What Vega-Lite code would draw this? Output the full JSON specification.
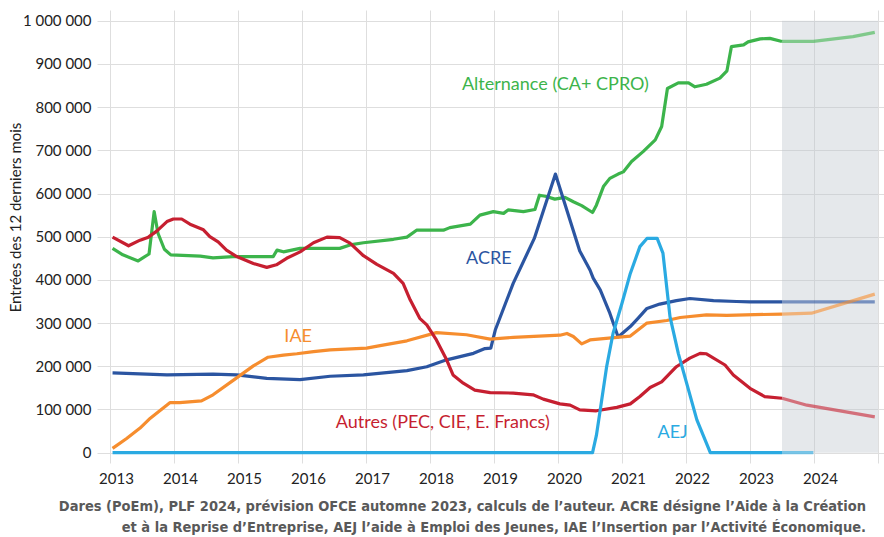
{
  "$schema": "https://vega.github.io/schema/vega-lite/v6.json",
  "width": 787,
  "height": 453,
  "autosize": {"type": "none"},
  "padding": {"left": 97, "top": 10, "right": 0, "bottom": 74},
  "background": "white",
  "config": {
    "view": {"stroke": null},
    "locale": {"number": {"decimal": ",", "thousands": "\u00a0", "grouping": [3], "currency": ["", " €"]}}
  },
  "title": {
    "text": ["Dares (PoEm), PLF 2024, prévision OFCE automne 2023, calculs de l’auteur. ACRE désigne l’Aide à la Création", "et à la Reprise d’Entreprise, AEJ l’aide à Emploi des Jeunes, IAE l’Insertion par l’Activité Économique."],
    "orient": "bottom",
    "anchor": "end",
    "frame": "group",
    "align": "right",
    "dx": -18,
    "offset": 14,
    "font": "Liberation Sans Narrow, DejaVu Sans Condensed, sans-serif",
    "fontSize": 14.5,
    "fontWeight": "bold",
    "color": "#595959",
    "lineHeight": 21
  },
  "datasets": {
    "band": [{"t": 2023.5, "t2": 2025, "v": 0, "v2": 1000000}],
    "labels": [
      {"s": "Alternance", "t": 2019.96, "v": 851000, "txt": "Alternance (CA+ CPRO)"},
      {"s": "ACRE", "t": 2018.92, "v": 448000, "txt": "ACRE"},
      {"s": "IAE", "t": 2015.94, "v": 268000, "txt": "IAE"},
      {"s": "Autres", "t": 2018.2, "v": 69000, "txt": "Autres (PEC, CIE, E. Francs)"},
      {"s": "AEJ", "t": 2021.79, "v": 46000, "txt": "AEJ"}
    ],
    "series": [
      {"s": "Alternance", "p": "obs", "t": 2013.04, "v": 473000},
      {"s": "Alternance", "p": "obs", "t": 2013.2, "v": 458000},
      {"s": "Alternance", "p": "obs", "t": 2013.44, "v": 444000},
      {"s": "Alternance", "p": "obs", "t": 2013.61, "v": 460000},
      {"s": "Alternance", "p": "obs", "t": 2013.69, "v": 558000},
      {"s": "Alternance", "p": "obs", "t": 2013.75, "v": 508000},
      {"s": "Alternance", "p": "obs", "t": 2013.85, "v": 471000},
      {"s": "Alternance", "p": "obs", "t": 2013.95, "v": 458000},
      {"s": "Alternance", "p": "obs", "t": 2014.41, "v": 455000},
      {"s": "Alternance", "p": "obs", "t": 2014.61, "v": 451000},
      {"s": "Alternance", "p": "obs", "t": 2014.92, "v": 454000},
      {"s": "Alternance", "p": "obs", "t": 2015.5, "v": 454000},
      {"s": "Alternance", "p": "obs", "t": 2015.55, "v": 454000},
      {"s": "Alternance", "p": "obs", "t": 2015.61, "v": 469000},
      {"s": "Alternance", "p": "obs", "t": 2015.71, "v": 465000},
      {"s": "Alternance", "p": "obs", "t": 2015.97, "v": 473000},
      {"s": "Alternance", "p": "obs", "t": 2016.59, "v": 473000},
      {"s": "Alternance", "p": "obs", "t": 2016.75, "v": 481000},
      {"s": "Alternance", "p": "obs", "t": 2016.96, "v": 486000},
      {"s": "Alternance", "p": "obs", "t": 2017.43, "v": 494000},
      {"s": "Alternance", "p": "obs", "t": 2017.64, "v": 499000},
      {"s": "Alternance", "p": "obs", "t": 2017.79, "v": 515000},
      {"s": "Alternance", "p": "obs", "t": 2018.21, "v": 515000},
      {"s": "Alternance", "p": "obs", "t": 2018.31, "v": 521000},
      {"s": "Alternance", "p": "obs", "t": 2018.63, "v": 529000},
      {"s": "Alternance", "p": "obs", "t": 2018.78, "v": 550000},
      {"s": "Alternance", "p": "obs", "t": 2018.99, "v": 558000},
      {"s": "Alternance", "p": "obs", "t": 2019.15, "v": 554000},
      {"s": "Alternance", "p": "obs", "t": 2019.22, "v": 562000},
      {"s": "Alternance", "p": "obs", "t": 2019.46, "v": 558000},
      {"s": "Alternance", "p": "obs", "t": 2019.64, "v": 563000},
      {"s": "Alternance", "p": "obs", "t": 2019.71, "v": 596000},
      {"s": "Alternance", "p": "obs", "t": 2019.82, "v": 593000},
      {"s": "Alternance", "p": "obs", "t": 2019.95, "v": 587000},
      {"s": "Alternance", "p": "obs", "t": 2020.11, "v": 591000},
      {"s": "Alternance", "p": "obs", "t": 2020.24, "v": 581000},
      {"s": "Alternance", "p": "obs", "t": 2020.37, "v": 572000},
      {"s": "Alternance", "p": "obs", "t": 2020.54, "v": 556000},
      {"s": "Alternance", "p": "obs", "t": 2020.6, "v": 573000},
      {"s": "Alternance", "p": "obs", "t": 2020.71, "v": 616000},
      {"s": "Alternance", "p": "obs", "t": 2020.81, "v": 635000},
      {"s": "Alternance", "p": "obs", "t": 2020.94, "v": 645000},
      {"s": "Alternance", "p": "obs", "t": 2021.02, "v": 650000},
      {"s": "Alternance", "p": "obs", "t": 2021.15, "v": 674000},
      {"s": "Alternance", "p": "obs", "t": 2021.33, "v": 697000},
      {"s": "Alternance", "p": "obs", "t": 2021.52, "v": 724000},
      {"s": "Alternance", "p": "obs", "t": 2021.62, "v": 755000},
      {"s": "Alternance", "p": "obs", "t": 2021.71, "v": 843000},
      {"s": "Alternance", "p": "obs", "t": 2021.88, "v": 856000},
      {"s": "Alternance", "p": "obs", "t": 2022.04, "v": 856000},
      {"s": "Alternance", "p": "obs", "t": 2022.14, "v": 847000},
      {"s": "Alternance", "p": "obs", "t": 2022.32, "v": 853000},
      {"s": "Alternance", "p": "obs", "t": 2022.53, "v": 867000},
      {"s": "Alternance", "p": "obs", "t": 2022.64, "v": 884000},
      {"s": "Alternance", "p": "obs", "t": 2022.71, "v": 940000},
      {"s": "Alternance", "p": "obs", "t": 2022.9, "v": 944000},
      {"s": "Alternance", "p": "obs", "t": 2022.97, "v": 951000},
      {"s": "Alternance", "p": "obs", "t": 2023.16, "v": 958000},
      {"s": "Alternance", "p": "obs", "t": 2023.31, "v": 959000},
      {"s": "Alternance", "p": "obs", "t": 2023.5, "v": 952000},
      {"s": "Alternance", "p": "proj", "t": 2023.5, "v": 952000},
      {"s": "Alternance", "p": "proj", "t": 2023.99, "v": 952000},
      {"s": "Alternance", "p": "proj", "t": 2024.61, "v": 963000},
      {"s": "Alternance", "p": "proj", "t": 2024.95, "v": 973000},

      {"s": "ACRE", "p": "obs", "t": 2013.04, "v": 185000},
      {"s": "ACRE", "p": "obs", "t": 2013.89, "v": 180000},
      {"s": "ACRE", "p": "obs", "t": 2014.61, "v": 182000},
      {"s": "ACRE", "p": "obs", "t": 2014.98, "v": 180000},
      {"s": "ACRE", "p": "obs", "t": 2015.45, "v": 172000},
      {"s": "ACRE", "p": "obs", "t": 2015.97, "v": 169000},
      {"s": "ACRE", "p": "obs", "t": 2016.44, "v": 177000},
      {"s": "ACRE", "p": "obs", "t": 2016.96, "v": 180000},
      {"s": "ACRE", "p": "obs", "t": 2017.64, "v": 190000},
      {"s": "ACRE", "p": "obs", "t": 2017.95, "v": 199000},
      {"s": "ACRE", "p": "obs", "t": 2018.26, "v": 215000},
      {"s": "ACRE", "p": "obs", "t": 2018.68, "v": 230000},
      {"s": "ACRE", "p": "obs", "t": 2018.86, "v": 241000},
      {"s": "ACRE", "p": "obs", "t": 2018.95, "v": 242000},
      {"s": "ACRE", "p": "obs", "t": 2019.02, "v": 284000},
      {"s": "ACRE", "p": "obs", "t": 2019.3, "v": 392000},
      {"s": "ACRE", "p": "obs", "t": 2019.63, "v": 496000},
      {"s": "ACRE", "p": "obs", "t": 2019.96, "v": 645000},
      {"s": "ACRE", "p": "obs", "t": 2020.34, "v": 467000},
      {"s": "ACRE", "p": "obs", "t": 2020.5, "v": 423000},
      {"s": "ACRE", "p": "obs", "t": 2020.55, "v": 404000},
      {"s": "ACRE", "p": "obs", "t": 2020.66, "v": 377000},
      {"s": "ACRE", "p": "obs", "t": 2020.81, "v": 323000},
      {"s": "ACRE", "p": "obs", "t": 2020.94, "v": 268000},
      {"s": "ACRE", "p": "obs", "t": 2021.13, "v": 292000},
      {"s": "ACRE", "p": "obs", "t": 2021.25, "v": 311000},
      {"s": "ACRE", "p": "obs", "t": 2021.39, "v": 334000},
      {"s": "ACRE", "p": "obs", "t": 2021.59, "v": 344000},
      {"s": "ACRE", "p": "obs", "t": 2021.85, "v": 352000},
      {"s": "ACRE", "p": "obs", "t": 2022.06, "v": 357000},
      {"s": "ACRE", "p": "obs", "t": 2022.43, "v": 352000},
      {"s": "ACRE", "p": "obs", "t": 2022.79, "v": 350000},
      {"s": "ACRE", "p": "obs", "t": 2023.0, "v": 349000},
      {"s": "ACRE", "p": "obs", "t": 2023.5, "v": 349000},
      {"s": "ACRE", "p": "proj", "t": 2023.5, "v": 349000},
      {"s": "ACRE", "p": "proj", "t": 2024.95, "v": 349000},

      {"s": "IAE", "p": "obs", "t": 2013.04, "v": 10000},
      {"s": "IAE", "p": "obs", "t": 2013.26, "v": 33000},
      {"s": "IAE", "p": "obs", "t": 2013.47, "v": 57000},
      {"s": "IAE", "p": "obs", "t": 2013.63, "v": 80000},
      {"s": "IAE", "p": "obs", "t": 2013.94, "v": 116000},
      {"s": "IAE", "p": "obs", "t": 2014.09, "v": 116000},
      {"s": "IAE", "p": "obs", "t": 2014.43, "v": 120000},
      {"s": "IAE", "p": "obs", "t": 2014.61, "v": 134000},
      {"s": "IAE", "p": "obs", "t": 2014.93, "v": 168000},
      {"s": "IAE", "p": "obs", "t": 2015.24, "v": 201000},
      {"s": "IAE", "p": "obs", "t": 2015.47, "v": 221000},
      {"s": "IAE", "p": "obs", "t": 2015.71, "v": 226000},
      {"s": "IAE", "p": "obs", "t": 2015.92, "v": 229000},
      {"s": "IAE", "p": "obs", "t": 2016.18, "v": 234000},
      {"s": "IAE", "p": "obs", "t": 2016.44, "v": 238000},
      {"s": "IAE", "p": "obs", "t": 2017.01, "v": 242000},
      {"s": "IAE", "p": "obs", "t": 2017.22, "v": 248000},
      {"s": "IAE", "p": "obs", "t": 2017.64, "v": 259000},
      {"s": "IAE", "p": "obs", "t": 2018.1, "v": 278000},
      {"s": "IAE", "p": "obs", "t": 2018.57, "v": 273000},
      {"s": "IAE", "p": "obs", "t": 2018.94, "v": 263000},
      {"s": "IAE", "p": "obs", "t": 2019.3, "v": 267000},
      {"s": "IAE", "p": "obs", "t": 2020.03, "v": 272000},
      {"s": "IAE", "p": "obs", "t": 2020.14, "v": 276000},
      {"s": "IAE", "p": "obs", "t": 2020.24, "v": 269000},
      {"s": "IAE", "p": "obs", "t": 2020.37, "v": 252000},
      {"s": "IAE", "p": "obs", "t": 2020.5, "v": 261000},
      {"s": "IAE", "p": "obs", "t": 2020.92, "v": 267000},
      {"s": "IAE", "p": "obs", "t": 2021.13, "v": 270000},
      {"s": "IAE", "p": "obs", "t": 2021.39, "v": 300000},
      {"s": "IAE", "p": "obs", "t": 2021.7, "v": 306000},
      {"s": "IAE", "p": "obs", "t": 2021.91, "v": 313000},
      {"s": "IAE", "p": "obs", "t": 2022.32, "v": 319000},
      {"s": "IAE", "p": "obs", "t": 2022.64, "v": 318000},
      {"s": "IAE", "p": "obs", "t": 2023.5, "v": 321000},
      {"s": "IAE", "p": "proj", "t": 2023.5, "v": 321000},
      {"s": "IAE", "p": "proj", "t": 2023.96, "v": 323000},
      {"s": "IAE", "p": "proj", "t": 2024.95, "v": 367000},

      {"s": "Autres", "p": "obs", "t": 2013.04, "v": 499000},
      {"s": "Autres", "p": "obs", "t": 2013.29, "v": 479000},
      {"s": "Autres", "p": "obs", "t": 2013.47, "v": 492000},
      {"s": "Autres", "p": "obs", "t": 2013.6, "v": 499000},
      {"s": "Autres", "p": "obs", "t": 2013.73, "v": 513000},
      {"s": "Autres", "p": "obs", "t": 2013.89, "v": 535000},
      {"s": "Autres", "p": "obs", "t": 2013.99, "v": 541000},
      {"s": "Autres", "p": "obs", "t": 2014.12, "v": 541000},
      {"s": "Autres", "p": "obs", "t": 2014.25, "v": 529000},
      {"s": "Autres", "p": "obs", "t": 2014.46, "v": 516000},
      {"s": "Autres", "p": "obs", "t": 2014.56, "v": 500000},
      {"s": "Autres", "p": "obs", "t": 2014.69, "v": 488000},
      {"s": "Autres", "p": "obs", "t": 2014.82, "v": 469000},
      {"s": "Autres", "p": "obs", "t": 2014.98, "v": 454000},
      {"s": "Autres", "p": "obs", "t": 2015.24, "v": 438000},
      {"s": "Autres", "p": "obs", "t": 2015.45, "v": 429000},
      {"s": "Autres", "p": "obs", "t": 2015.6, "v": 435000},
      {"s": "Autres", "p": "obs", "t": 2015.76, "v": 450000},
      {"s": "Autres", "p": "obs", "t": 2015.97, "v": 465000},
      {"s": "Autres", "p": "obs", "t": 2016.18, "v": 486000},
      {"s": "Autres", "p": "obs", "t": 2016.39, "v": 499000},
      {"s": "Autres", "p": "obs", "t": 2016.59, "v": 498000},
      {"s": "Autres", "p": "obs", "t": 2016.75, "v": 485000},
      {"s": "Autres", "p": "obs", "t": 2016.96, "v": 456000},
      {"s": "Autres", "p": "obs", "t": 2017.17, "v": 436000},
      {"s": "Autres", "p": "obs", "t": 2017.43, "v": 415000},
      {"s": "Autres", "p": "obs", "t": 2017.58, "v": 392000},
      {"s": "Autres", "p": "obs", "t": 2017.69, "v": 354000},
      {"s": "Autres", "p": "obs", "t": 2017.84, "v": 311000},
      {"s": "Autres", "p": "obs", "t": 2017.95, "v": 296000},
      {"s": "Autres", "p": "obs", "t": 2018.1, "v": 261000},
      {"s": "Autres", "p": "obs", "t": 2018.26, "v": 215000},
      {"s": "Autres", "p": "obs", "t": 2018.36, "v": 180000},
      {"s": "Autres", "p": "obs", "t": 2018.52, "v": 161000},
      {"s": "Autres", "p": "obs", "t": 2018.7, "v": 145000},
      {"s": "Autres", "p": "obs", "t": 2018.94, "v": 139000},
      {"s": "Autres", "p": "obs", "t": 2019.3, "v": 138000},
      {"s": "Autres", "p": "obs", "t": 2019.61, "v": 134000},
      {"s": "Autres", "p": "obs", "t": 2019.77, "v": 124000},
      {"s": "Autres", "p": "obs", "t": 2020.03, "v": 113000},
      {"s": "Autres", "p": "obs", "t": 2020.19, "v": 110000},
      {"s": "Autres", "p": "obs", "t": 2020.34, "v": 99000},
      {"s": "Autres", "p": "obs", "t": 2020.6, "v": 97000},
      {"s": "Autres", "p": "obs", "t": 2020.92, "v": 105000},
      {"s": "Autres", "p": "obs", "t": 2021.13, "v": 113000},
      {"s": "Autres", "p": "obs", "t": 2021.28, "v": 130000},
      {"s": "Autres", "p": "obs", "t": 2021.44, "v": 151000},
      {"s": "Autres", "p": "obs", "t": 2021.62, "v": 164000},
      {"s": "Autres", "p": "obs", "t": 2021.85, "v": 199000},
      {"s": "Autres", "p": "obs", "t": 2022.06, "v": 219000},
      {"s": "Autres", "p": "obs", "t": 2022.22, "v": 230000},
      {"s": "Autres", "p": "obs", "t": 2022.32, "v": 229000},
      {"s": "Autres", "p": "obs", "t": 2022.61, "v": 203000},
      {"s": "Autres", "p": "obs", "t": 2022.74, "v": 180000},
      {"s": "Autres", "p": "obs", "t": 2023.0, "v": 149000},
      {"s": "Autres", "p": "obs", "t": 2023.23, "v": 130000},
      {"s": "Autres", "p": "obs", "t": 2023.5, "v": 126000},
      {"s": "Autres", "p": "proj", "t": 2023.5, "v": 126000},
      {"s": "Autres", "p": "proj", "t": 2023.89, "v": 110000},
      {"s": "Autres", "p": "proj", "t": 2024.95, "v": 83000},

      {"s": "AEJ", "p": "obs", "t": 2013.04, "v": 0},
      {"s": "AEJ", "p": "obs", "t": 2020.54, "v": 0},
      {"s": "AEJ", "p": "obs", "t": 2020.6, "v": 40000},
      {"s": "AEJ", "p": "obs", "t": 2020.66, "v": 99000},
      {"s": "AEJ", "p": "obs", "t": 2020.76, "v": 199000},
      {"s": "AEJ", "p": "obs", "t": 2020.86, "v": 276000},
      {"s": "AEJ", "p": "obs", "t": 2021.0, "v": 346000},
      {"s": "AEJ", "p": "obs", "t": 2021.13, "v": 415000},
      {"s": "AEJ", "p": "obs", "t": 2021.28, "v": 477000},
      {"s": "AEJ", "p": "obs", "t": 2021.39, "v": 496000},
      {"s": "AEJ", "p": "obs", "t": 2021.55, "v": 496000},
      {"s": "AEJ", "p": "obs", "t": 2021.64, "v": 462000},
      {"s": "AEJ", "p": "obs", "t": 2021.75, "v": 315000},
      {"s": "AEJ", "p": "obs", "t": 2021.88, "v": 230000},
      {"s": "AEJ", "p": "obs", "t": 2022.01, "v": 161000},
      {"s": "AEJ", "p": "obs", "t": 2022.17, "v": 76000},
      {"s": "AEJ", "p": "obs", "t": 2022.38, "v": 0},
      {"s": "AEJ", "p": "obs", "t": 2023.5, "v": 0},
      {"s": "AEJ", "p": "proj", "t": 2023.5, "v": 0},
      {"s": "AEJ", "p": "proj", "t": 2023.99, "v": 0}
    ]
  },
  "encoding": {
    "x": {
      "field": "t",
      "type": "quantitative",
      "scale": {"domain": [2012.797, 2025.094], "nice": false, "zero": false},
      "axis": {
        "title": null,
        "values": [2013, 2014, 2015, 2016, 2017, 2018, 2019, 2020, 2021, 2022, 2023, 2024, 2025],
        "format": "d",
        "labelExpr": "datum.value > 2024 ? '' : datum.label",
        "grid": true,
        "gridColor": "#dedede",
        "gridWidth": 1,
        "domain": false,
        "ticks": false,
        "labelPadding": 8,
        "labelOffset": 6,
        "labelFont": "Lato",
        "labelFontSize": 15,
        "labelColor": "#222222"
      }
    },
    "y": {
      "field": "v",
      "type": "quantitative",
      "scale": {"domain": [-23843, 1024769], "nice": false, "zero": false},
      "axis": {
        "title": "Entrées des 12 derniers mois",
        "values": [0, 100000, 200000, 300000, 400000, 500000, 600000, 700000, 800000, 900000, 1000000],
        "format": ",d",
        "grid": true,
        "gridColor": "#dedede",
        "gridWidth": 1,
        "domain": false,
        "ticks": false,
        "labelPadding": 6,
        "labelFont": "Lato",
        "labelFontSize": 15,
        "labelColor": "#222222",
        "titleFont": "Lato",
        "titleFontSize": 15,
        "titleFontWeight": "normal",
        "titleColor": "#222222",
        "titleAngle": -90,
        "titleAlign": "center",
        "titleBaseline": "middle",
        "titleX": -82,
        "titleY": 207
      }
    }
  },
  "layer": [
    {
      "data": {"name": "band"},
      "mark": {"type": "rect", "fill": "#bdc5cc", "opacity": 0.4},
      "encoding": {
        "x": {"field": "t", "type": "quantitative"},
        "x2": {"field": "t2"},
        "y": {"field": "v", "type": "quantitative"},
        "y2": {"field": "v2"}
      }
    },
    {
      "data": {"name": "series"},
      "mark": {"type": "line", "strokeWidth": 3.2, "strokeJoin": "round", "strokeCap": "butt"},
      "encoding": {
        "color": {
          "field": "s",
          "type": "nominal",
          "scale": {"domain": ["Autres", "Alternance", "IAE", "ACRE", "AEJ"], "range": ["#c61f30", "#3cb44b", "#f68d2e", "#2b55a1", "#2aaae2"]},
          "legend": null
        },
        "detail": {"field": "p", "type": "nominal"},
        "opacity": {"field": "p", "type": "nominal", "scale": {"domain": ["obs", "proj"], "range": [1, 0.6]}, "legend": null}
      }
    },
    {
      "data": {"name": "labels"},
      "mark": {"type": "text", "font": "Lato", "fontSize": 18, "align": "center", "baseline": "middle"},
      "encoding": {
        "text": {"field": "txt"},
        "color": {"field": "s", "type": "nominal", "legend": null}
      }
    }
  ]
}
